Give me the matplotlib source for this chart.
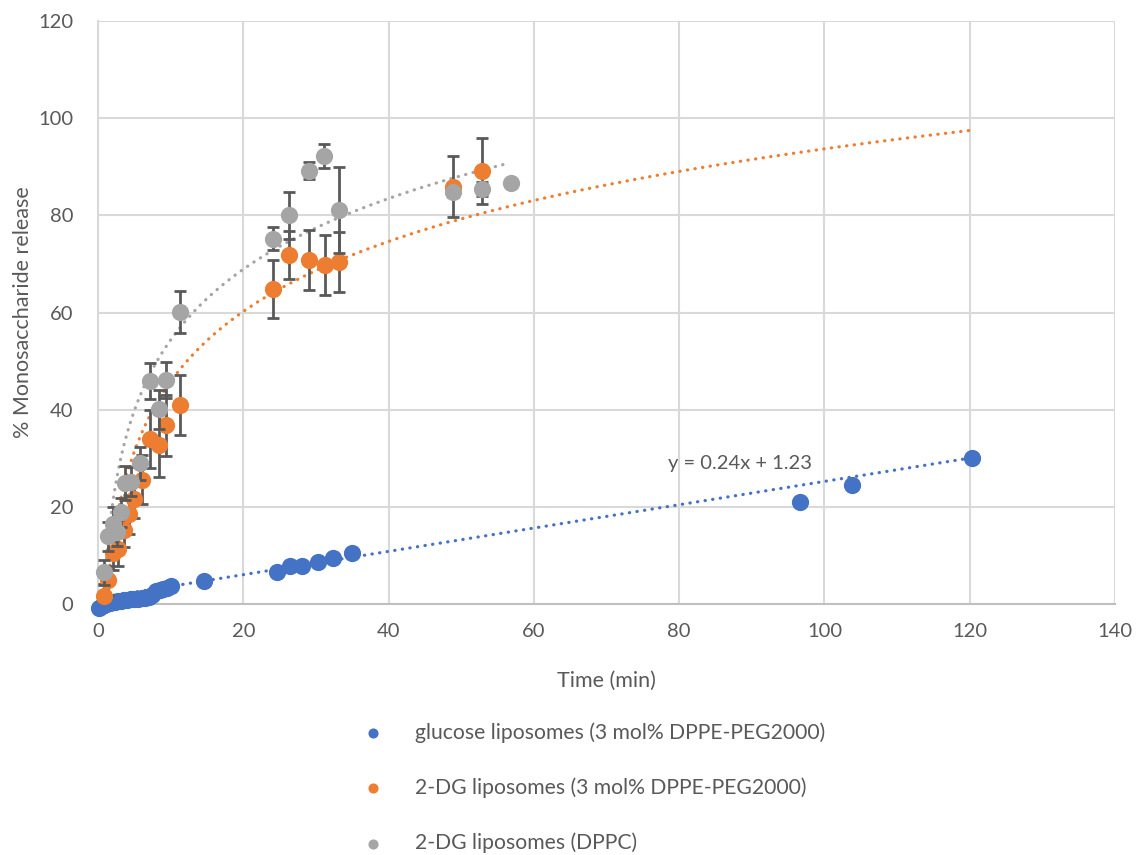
import numpy as np
import matplotlib.pyplot as plt

plt.rcParams['font.family'] = ['Lato', 'DejaVu Sans']

# glucose liposomes (3 mol% DPPE-PEG2000)
t_glu = [0.2, 0.5, 0.8, 1.1, 1.4, 1.7, 2.0, 2.4, 2.8, 3.2, 3.6, 4.0, 4.5, 5.0,
         5.5, 6.0, 6.5, 7.0, 7.5, 8.0, 8.5, 9.0, 9.5, 10.0, 14.6, 24.6, 26.4,
         28.1, 30.3, 32.4, 35.0, 96.6, 103.8, 120.3]
y_glu = [-0.8, -0.4, -0.2, 0.0, 0.2, 0.3, 0.4, 0.5, 0.6, 0.7, 0.8, 0.9, 1.0, 1.0,
         1.1, 1.2, 1.3, 1.5, 1.8, 2.6, 2.8, 3.0, 3.3, 3.6, 4.8, 6.5, 7.9,
         7.9, 8.6, 9.4, 10.4, 21.0, 24.5, 30.0]
glu_slope, glu_icpt = 0.24, 1.23

# 2-DG liposomes (3 mol% DPPE-PEG2000)
t_dg = [0.8, 1.4, 2.1, 2.8, 3.6, 4.3, 4.9, 6.1, 7.2, 8.4, 9.4, 11.3,
        24.1, 26.3, 29.0, 31.2, 33.2, 48.9, 52.9]
y_dg = [1.7, 4.9, 10.4, 11.4, 15.2, 18.5, 21.6, 25.6, 33.9, 32.7, 36.8, 40.9,
        64.8, 71.8, 70.8, 69.8, 70.4, 85.9, 89.2]
err_dg = [2.5, 3.0, 3.5, 3.5, 3.5, 4.0, 4.0, 5.0, 6.0, 6.5, 6.3, 6.2,
          6.0, 5.0, 6.2, 6.1, 6.1, 6.3, 6.8]
dg_a, dg_b = 20.8, -2.1   # log trendline

# 2-DG liposomes (DPPC)
t_dppc = [0.8, 1.4, 2.1, 2.6, 3.2, 3.7, 4.6, 5.8, 7.2, 8.4, 9.4, 11.3,
          24.1, 26.3, 29.0, 31.1, 33.2, 48.9, 52.9, 56.9]
y_dppc = [6.5, 13.9, 16.4, 14.9, 18.9, 25.0, 25.2, 29.0, 45.9, 40.1, 46.1, 60.1,
          75.2, 80.0, 89.2, 92.2, 81.1, 84.8, 85.4, 86.6]
err_dppc = [2.5, 3.0, 3.5, 3.0, 3.0, 3.5, 3.0, 3.4, 3.8, 4.0, 3.8, 4.4,
            2.3, 4.8, 1.7, 2.5, 8.8, 1.0, 1.5, 0.6]
dppc_a, dppc_b = 21.0, 6.0

blue = '#4472C4'
orange = '#ED7D31'
gray = '#A5A5A5'
txt = '#595959'
dots = (0, (0.1, 2.3))

fig = plt.figure(figsize=(11.37, 8.55), dpi=100)
ax = fig.add_axes([0.0862, 0.2936, 0.8945, 0.6818])

# trendlines
x = np.linspace(min(t_glu), 120, 200)
ax.plot(x, glu_slope * x + glu_icpt, color=blue, lw=2.3, ls=dots,
        dash_capstyle='round', zorder=2)
x = np.linspace(1.11, 120, 400)
ax.plot(x, dg_a * np.log(x) + dg_b, color=orange, lw=2.3, ls=dots,
        dash_capstyle='round', zorder=2)
x = np.linspace(0.75, 56.4, 400)
ax.plot(x, dppc_a * np.log(x) + dppc_b, color=gray, lw=2.3, ls=dots,
        dash_capstyle='round', zorder=2)

ax.scatter(t_glu, y_glu, s=130, color=blue, zorder=3, clip_on=False,
           label='glucose liposomes (3 mol% DPPE-PEG2000)')
ax.errorbar(t_dg, y_dg, yerr=err_dg, fmt='none', ecolor='#595959',
            elinewidth=2, capsize=4, capthick=2, zorder=4)
ax.scatter(t_dg, y_dg, s=130, color=orange, zorder=5, clip_on=False,
           label='2-DG liposomes (3 mol% DPPE-PEG2000)')
ax.errorbar(t_dppc, y_dppc, yerr=err_dppc, fmt='none', ecolor='#595959',
            elinewidth=2, capsize=4, capthick=2, zorder=6)
ax.scatter(t_dppc, y_dppc, s=130, color=gray, zorder=7, clip_on=False,
           label='2-DG liposomes (DPPC)')

ax.text(78.5, 29, 'y = 0.24x + 1.23', color=txt, fontsize=14.5, va='center')

ax.set_xlim(0, 140)
ax.set_ylim(0, 120)
ax.set_xticks(range(0, 141, 20))
ax.set_yticks(range(0, 121, 20))
ax.grid(True, color='#D9D9D9', lw=1.5)
ax.set_axisbelow(True)
for s in ['top', 'right']:
    ax.spines[s].set_visible(False)
ax.spines['left'].set_color('#D9D9D9')
ax.spines['left'].set_linewidth(1.5)
ax.spines['bottom'].set_color('#BFBFBF')
ax.spines['bottom'].set_linewidth(1.5)
ax.tick_params(length=0, labelsize=14.5, colors=txt)
ax.tick_params(axis='x', pad=14)
ax.tick_params(axis='y', pad=18)
ax.set_xlabel('Time (min)', fontsize=15.5, color=txt)
ax.set_ylabel('% Monosaccharide release', fontsize=15.5, color=txt)
ax.xaxis.set_label_coords(0.5, -0.114)
ax.yaxis.set_label_coords(-0.064, 0.5)

leg = fig.legend(loc='upper left', bbox_to_anchor=(0.3, 0.168), frameon=False,
                 fontsize=15.2, labelcolor=txt, markerscale=0.55,
                 labelspacing=1.65, handletextpad=1.0, borderpad=0)

fig.savefig('out.png', dpi=100)
